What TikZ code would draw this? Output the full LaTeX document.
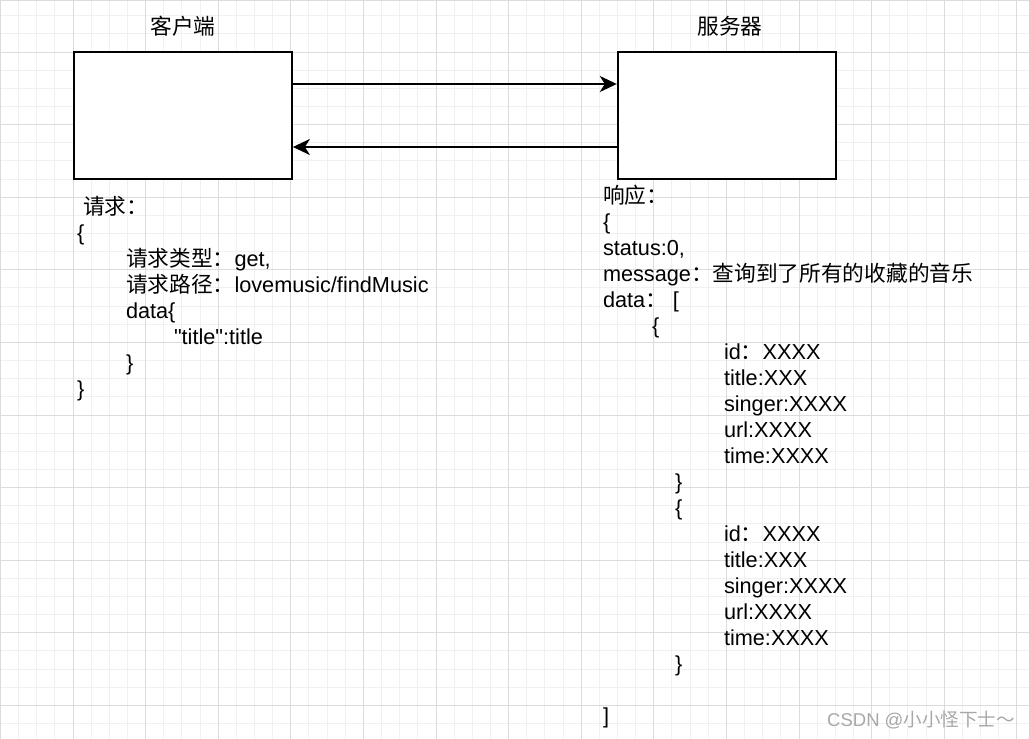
\documentclass[tikz,border=0pt]{standalone}
\usepackage{fontspec}
\setmainfont{Liberation Sans}[Ligatures=TeXOff]
\newfontfamily\cjk{Noto Sans CJK SC}
\usetikzlibrary{arrows.meta}
\definecolor{minorgrid}{HTML}{F0F0F0}
\definecolor{majorgrid}{HTML}{DCDCDC}
\definecolor{wmgray}{HTML}{A8A8A8}
\begin{document}
\begin{tikzpicture}[x=1pt,y=-1pt,
  txt/.style={anchor=base west, inner sep=0pt, outer sep=0pt, font=\fontsize{21.7pt}{26pt}\selectfont},
  box/.style={draw, line width=1.8pt, fill=white, minimum width=218pt, minimum height=127pt, inner sep=0pt},
  arr/.style={line width=1.8pt, -{Stealth[length=17pt,width=16pt,inset=5pt]}},
  minorline/.style={draw=minorgrid, line width=1pt},
  majorline/.style={draw=majorgrid, line width=1pt}]
\useasboundingbox (0,0) rectangle (1029,739);
\fill[white] (0,0) rectangle (1029,739);
% grid
\foreach \k in {0,...,56} {\pgfmathsetmacro\gx{0.4+18.15*\k}\draw[minorline] (\gx,0) -- (\gx,739);}
\foreach \k in {1,...,41} {\pgfmathsetmacro\gy{-2.45+18.15*\k}\draw[minorline] (0,\gy) -- (1029,\gy);}
\foreach \k in {0,...,14} {\pgfmathsetmacro\gx{0.4+72.6*\k}\draw[majorline] (\gx,0) -- (\gx,739);}
\foreach \k in {1,...,10} {\pgfmathsetmacro\gy{-20.6+72.6*\k}\draw[majorline] (0,\gy) -- (1029,\gy);}
\draw[majorline] (0,0.5) -- (1029,0.5);
% boxes
\node[box] (client) at (183,115.5) {};
\node[box] (server) at (726.7,115.5) {};
\node[txt, anchor=base] (t1) at (183,34) {\cjk 客户端};
\node[txt, anchor=base] (t2) at (730,34) {\cjk 服务器};
% arrows
\draw[arr] ([yshift=31.5pt]client.east) -- ([yshift=31.5pt]server.west);
\draw[arr] ([yshift=-31.5pt]server.west) -- ([yshift=-31.5pt]client.east);
% request
\node[txt] (q0) at (83,214) {{\cjk 请求：}};
\node[txt] (q1) at (77,240) {\{};
\node[txt] (q2) at (126,266) {{\cjk 请求类型：}get,};
\node[txt] (q3) at (126,292) {{\cjk 请求路径：}lovemusic/findMusic};
\node[txt] (q4) at (126,318) {data\{};
\node[txt] (q5) at (174,344) {"title":title};
\node[txt] (q6) at (126,370) {\}};
\node[txt] (q7) at (77,396) {\}};
% response
\node[txt] (r0) at (603,203) {{\cjk 响应：}};
\node[txt] (r1) at (603,229) {\{};
\node[txt] (r2) at (603,255) {status:0,};
\node[txt] (r3) at (603,281) {message{\cjk ：查询到了所有的收藏的音乐}};
\node[txt] (r4) at (603,307) {data{\cjk ：}\ [};
\node[txt] (r5) at (652,333) {\{};
\node[txt] (r6) at (724,359) {id{\cjk ：}XXXX};
\node[txt] (r7) at (724,385) {title:XXX};
\node[txt] (r8) at (724,411) {singer:XXXX};
\node[txt] (r9) at (724,437) {url:XXXX};
\node[txt] (r10) at (724,463) {time:XXXX};
\node[txt] (r11) at (675,489) {\}};
\node[txt] (r12) at (675,515) {\{};
\node[txt] (r13) at (724,541) {id{\cjk ：}XXXX};
\node[txt] (r14) at (724,567) {title:XXX};
\node[txt] (r15) at (724,593) {singer:XXXX};
\node[txt] (r16) at (724,619) {url:XXXX};
\node[txt] (r17) at (724,645) {time:XXXX};
\node[txt] (r18) at (675,671) {\}};
\node[txt] (r19) at (603,723) {]};
% watermark
\node[anchor=base west, inner sep=0pt, text=wmgray, font=\fontsize{18.5pt}{22pt}\selectfont] (wm) at (827,726) {CSDN @{\cjk 小小怪下士～}};
\end{tikzpicture}
\end{document}
